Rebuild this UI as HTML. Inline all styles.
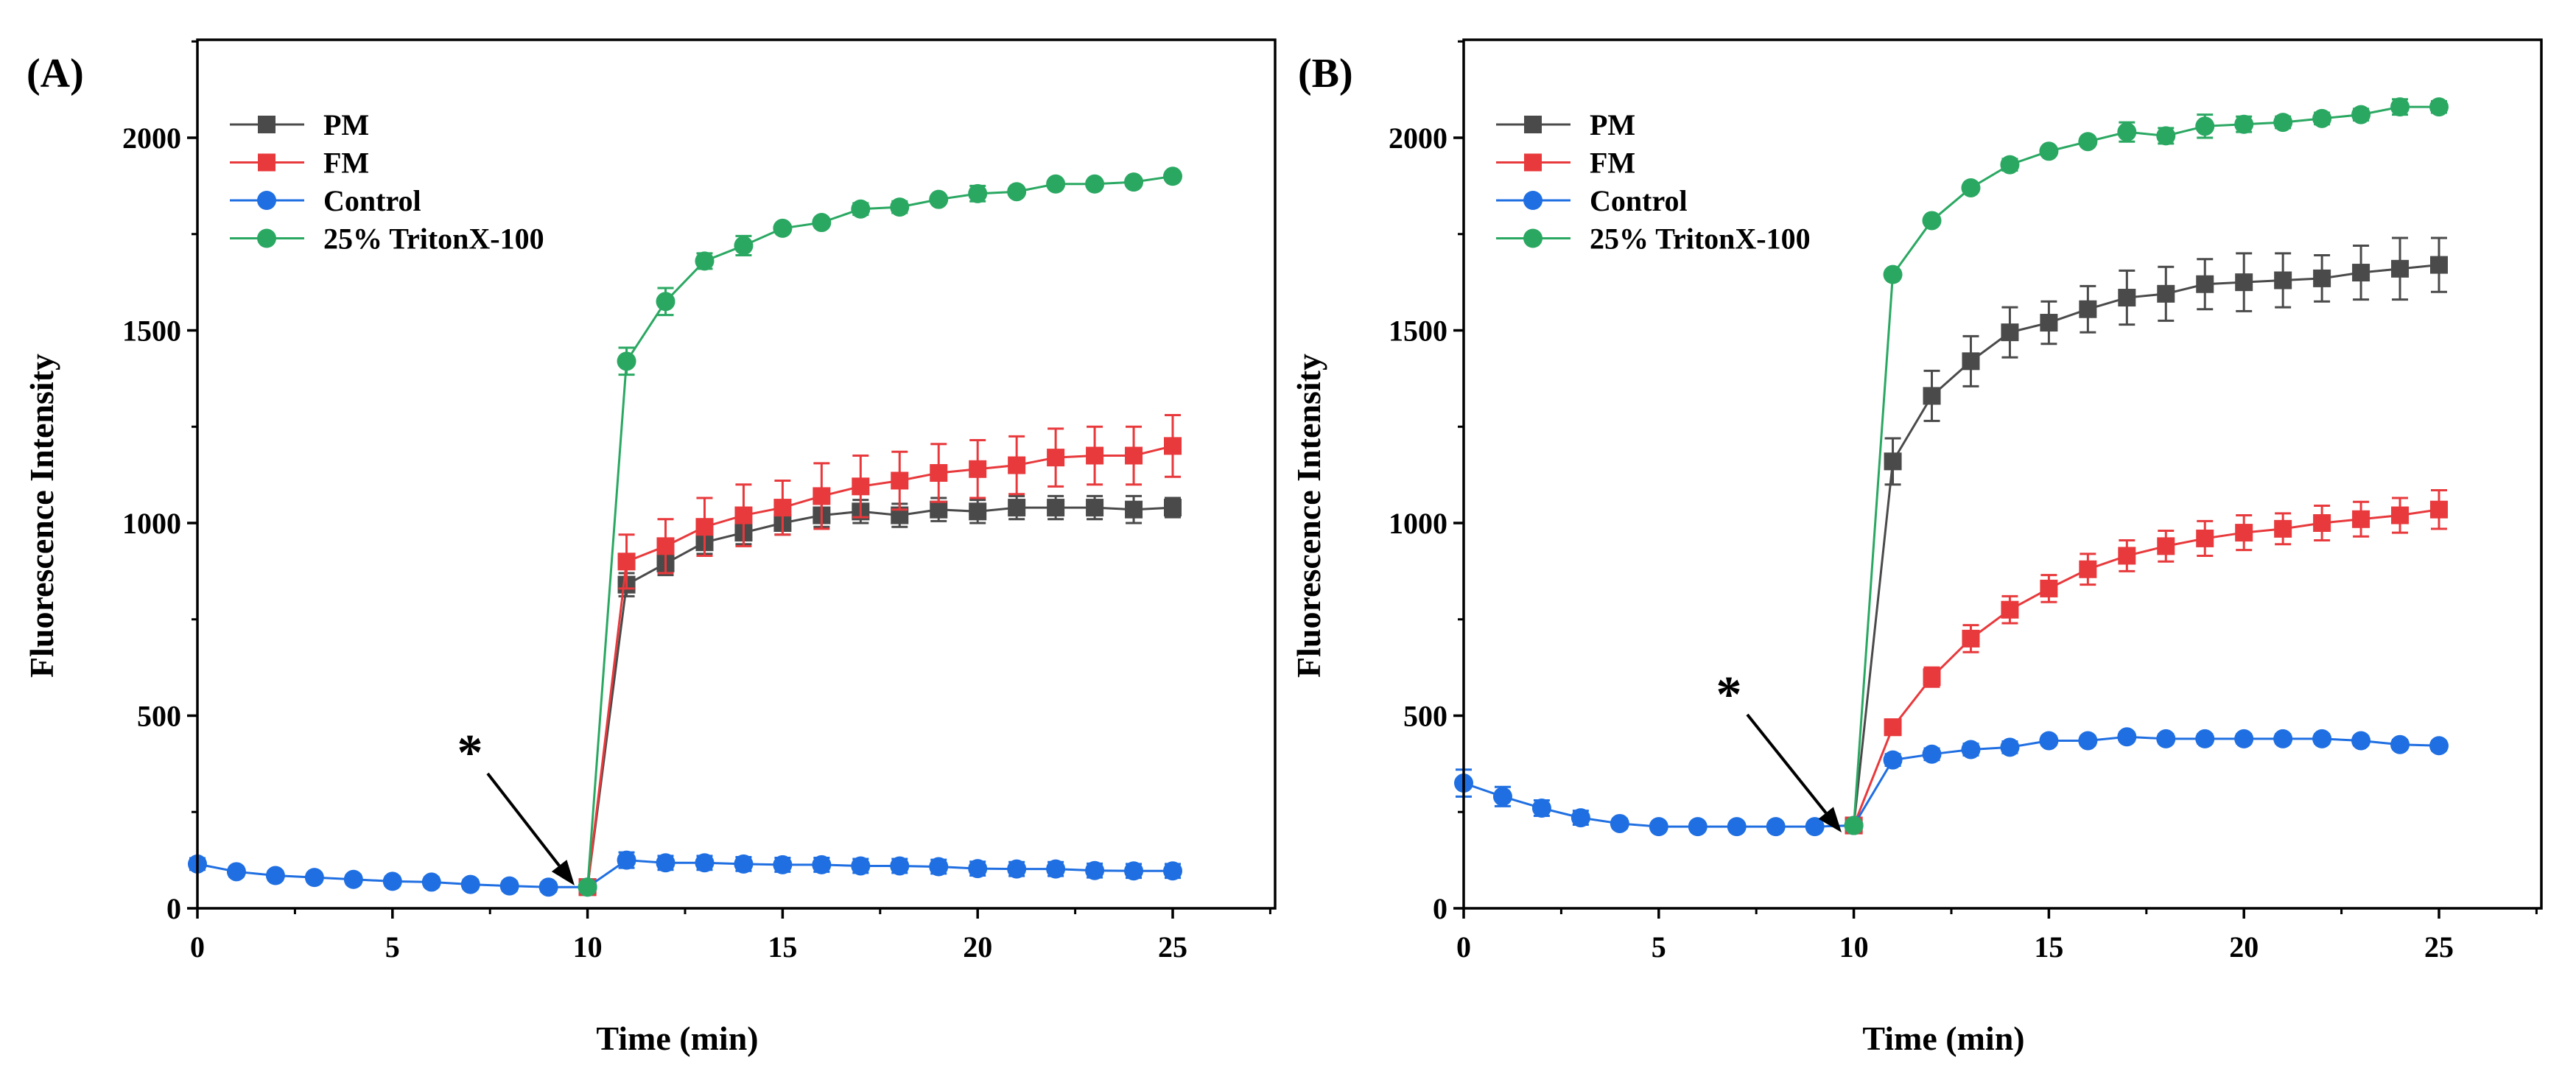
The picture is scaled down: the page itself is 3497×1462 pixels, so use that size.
<!DOCTYPE html>
<html><head><meta charset="utf-8"><style>
html,body{margin:0;padding:0;background:#fff;}
svg{display:block;font-family:"Liberation Serif",serif;font-weight:bold;}
</style></head><body>
<svg id="chart" width="3497" height="1462" viewBox="0 0 3497 1462" xmlns="http://www.w3.org/2000/svg"></svg>
<script>
const times = [0,1,2,3,4,5,6,7,8,9,10,11,12,13,14,15,16,17,18,19,20,21,22,23,24,25];
const postTimes = [10,11,12,13,14,15,16,17,18,19,20,21,22,23,24,25];
const xTicks = [0,5,10,15,20,25];
const yTicks = [0,500,1000,1500,2000];
const seriesNames = ["PM","FM","Control","25% TritonX-100"];
// Panel A
const aControl = [115,95,85,80,75,70,68,62,58,55,55,125,118,118,115,113,113,110,110,108,103,102,102,98,97,97];
const aControlErr = [15,12,12,12,12,12,12,12,12,12,10,20,18,18,18,18,18,18,18,18,18,18,18,18,18,18];
const aPM = [55,840,895,950,975,1000,1020,1030,1020,1035,1030,1040,1040,1040,1035,1040];
const aPMErr = [5,30,30,30,30,30,30,30,30,30,30,30,30,30,35,25];
const aFM = [55,900,940,990,1020,1040,1070,1095,1110,1130,1140,1150,1170,1175,1175,1200];
const aFMErr = [5,70,70,75,80,70,85,80,75,75,75,75,75,75,75,80];
const aTriton = [55,1420,1575,1680,1720,1765,1780,1815,1820,1840,1855,1860,1880,1880,1885,1900];
const aTritonErr = [5,35,35,20,25,10,10,15,15,10,20,10,10,10,10,10];
// Panel B
const bControl = [325,290,260,235,220,212,212,212,212,212,215,385,400,412,418,435,435,445,440,440,440,440,440,435,425,422];
const bControlErr = [35,25,20,18,12,10,10,10,10,10,10,15,15,15,15,12,12,12,12,12,12,12,12,12,12,12];
const bPM = [215,1160,1330,1420,1495,1520,1555,1585,1595,1620,1625,1630,1635,1650,1660,1670];
const bPMErr = [5,60,65,65,65,55,60,70,70,65,75,70,60,70,80,70];
const bFM = [215,470,600,700,775,830,880,915,940,960,975,985,1000,1010,1020,1035];
const bFMErr = [5,20,25,35,35,35,40,40,40,45,45,40,45,45,45,50];
const bTriton = [215,1645,1785,1870,1930,1965,1990,2015,2005,2030,2035,2040,2050,2060,2080,2080];
const bTritonErr = [5,10,10,10,15,10,10,25,20,30,20,15,15,15,20,15];

const NS="http://www.w3.org/2000/svg";
const svg=document.getElementById('chart');
function mk(tag,attrs,parent){const e=document.createElementNS(NS,tag);for(const k in attrs)e.setAttribute(k,attrs[k]);(parent||svg).appendChild(e);return e;}
const colors={PM:"#4a4a4a",FM:"#e8393c",Control:"#1f6fe2",Triton:"#2aa862"};

function panel(off,label,ctrl,ctrlE,pm,pmE,fm,fmE,tr,trE,star,labelX,yTitleX){
  const L=268+off,R=1731+off,T=54,B=1233;
  const sx=v=>L+v*(1592-268)/25;
  const sy=v=>B-v*(1233-187)/2000;
  const g=mk('g',{});
  
  
  const t=mk('text',{x:labelX,y:118,'font-size':56},g);t.textContent='('+label+')';
  
  xTicks.forEach(v=>{
    const l=mk('line',{x1:sx(v),x2:sx(v),y1:B,y2:B+14,stroke:'#000','stroke-width':3.5},g);
    
    const tx=mk('text',{x:sx(v),y:B+66,'font-size':40,'text-anchor':'middle'},g);tx.textContent=v;
    
  });
  for(let v=2.5;v<=27.5;v+=5){const l=mk('line',{x1:sx(v),x2:sx(v),y1:B,y2:B+8,stroke:'#000','stroke-width':3},g);
    }
  yTicks.forEach(v=>{
    const l=mk('line',{x1:L-14,x2:L,y1:sy(v),y2:sy(v),stroke:'#000','stroke-width':3.5},g);
    
    const tx=mk('text',{x:L-22,y:sy(v)+14,'font-size':40,'text-anchor':'end'},g);tx.textContent=v;
    
  });
  for(let v=250;v<=2250;v+=500){const l=mk('line',{x1:L-8,x2:L,y1:sy(v),y2:sy(v),stroke:'#000','stroke-width':3},g);
    }
  const xt=mk('text',{x:(L+R)/2-80,y:1425,'font-size':46,'text-anchor':'middle'},g);xt.textContent='Time (min)';
  
  const yx=yTitleX;
  const yt=mk('text',{x:yx,y:700,'font-size':46,'text-anchor':'middle',transform:`rotate(-90 ${yx} 700)`},g);yt.textContent='Fluorescence Intensity';
  

  function series(name,xs,ys,es,color,shape){
    const sg=mk('g',{},g);
    
    
    const pts=xs.map((x,i)=>sx(x)+','+sy(ys[i])).join(' ');
    mk('polyline',{points:pts,fill:'none',stroke:color,'stroke-width':3},sg);
    xs.forEach((x,i)=>{
      const cx=sx(x),cy=sy(ys[i]),e=es[i];
      const eb=mk('path',{d:`M${cx},${sy(ys[i]+e)}V${sy(ys[i]-e)}M${cx-11},${sy(ys[i]+e)}H${cx+11}M${cx-11},${sy(ys[i]-e)}H${cx+11}`,stroke:color,'stroke-width':3,fill:'none'},sg);
      
      let m;
      if(shape==='sq') m=mk('rect',{x:cx-12,y:cy-12,width:24,height:24,fill:color},sg);
      else m=mk('circle',{cx:cx,cy:cy,r:13,fill:color},sg);
      
    });
  }
  series('PM',postTimes,pm,pmE,colors.PM,'sq');
  series('FM',postTimes,fm,fmE,colors.FM,'sq');
  series('Control',times,ctrl,ctrlE,colors.Control,'c');
  series('Triton',postTimes,tr,trE,colors.Triton,'c');

  const box=mk('rect',{x:L,y:T,width:R-L,height:B-T,fill:'none',stroke:'#000','stroke-width':3.5},g);
  

  const lc=[colors.PM,colors.FM,colors.Control,colors.Triton],ls=['sq','sq','c','c'];
  seriesNames.forEach((n,i)=>{
    const y=169+i*51.5;const x0=312+off;
    const lg=mk('g',{},g);
    
    mk('line',{x1:x0,x2:x0+101,y1:y,y2:y,stroke:lc[i],'stroke-width':3},lg);
    if(ls[i]==='sq') mk('rect',{x:x0+38,y:y-12,width:24,height:24,fill:lc[i]},lg);
    else mk('circle',{cx:x0+50,cy:y,r:13,fill:lc[i]},lg);
    const tx=mk('text',{x:x0+127,y:y+14,'font-size':40},lg);tx.textContent=n;
  });
  const ag=mk('g',{},g);
  
  const st=mk('text',{x:star[0],y:star[1],'font-size':70,'text-anchor':'middle'},ag);st.textContent='*';
  const x1=star[2],y1=star[3],x2=star[4],y2=star[5];
  const ang=Math.atan2(y2-y1,x2-x1);
  const hx=x2-34*Math.cos(ang),hy=y2-34*Math.sin(ang);
  mk('line',{x1:x1,y1:y1,x2:hx,y2:hy,stroke:'#000','stroke-width':4},ag);
  const px=-Math.sin(ang)*13,py=Math.cos(ang)*13;
  mk('polygon',{points:`${x2},${y2} ${hx+px},${hy+py} ${hx-px},${hy-py}`,fill:'#000'},ag);
}
panel(0,'A',aControl,aControlErr,aPM,aPMErr,aFM,aFMErr,aTriton,aTritonErr,[638,1045,662,1050,780,1202],36,72);
panel(1719,'B',bControl,bControlErr,bPM,bPMErr,bFM,bFMErr,bTriton,bTritonErr,[2347,966,2372,970,2500,1130],1762,1792);
</script>
</body></html>
